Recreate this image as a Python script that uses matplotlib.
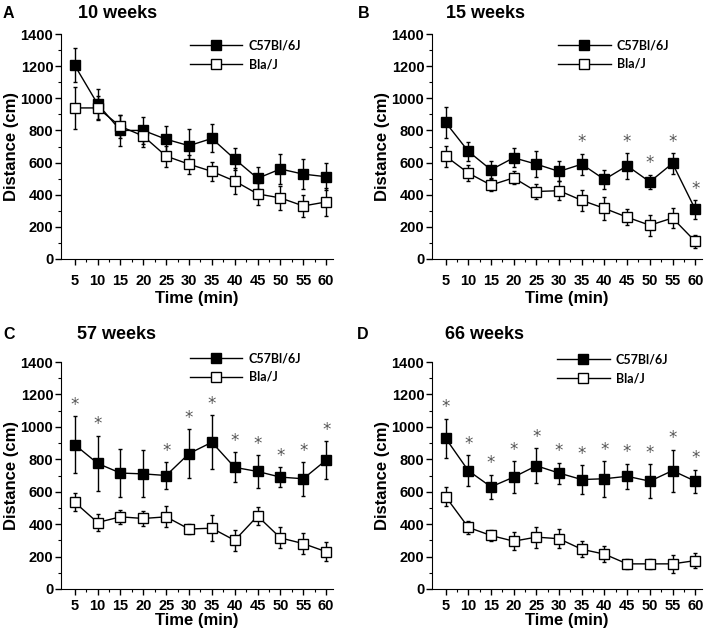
"""
Open field distance over time - 4 age groups (C57Bl/6J vs Bla/J)
"""

import matplotlib
matplotlib.use('Agg')
import matplotlib.pyplot as plt
from matplotlib.lines import Line2D
import numpy as np

plt.rcParams['font.family'] = ['Liberation Sans', 'DejaVu Sans']

time_min = [5, 10, 15, 20, 25, 30, 35, 40, 45, 50, 55, 60]

# 10 weeks
a_c57 = [1205, 965, 800, 800, 745, 705, 750, 622, 502, 560, 528, 512]
a_c57_err = [105, 95, 95, 83, 85, 107, 87, 67, 68, 92, 95, 83]
a_bla = [940, 940, 825, 765, 640, 590, 545, 485, 405, 380, 330, 355]
a_bla_err = [130, 75, 70, 65, 65, 60, 60, 80, 70, 75, 70, 87]
a_sig = []

# 15 weeks
b_c57 = [850, 670, 555, 630, 590, 545, 590, 495, 580, 480, 595, 310]
b_c57_err = [95, 60, 52, 60, 80, 62, 65, 60, 80, 45, 64, 58]
b_bla = [640, 535, 460, 505, 420, 425, 365, 315, 260, 210, 255, 110]
b_bla_err = [65, 52, 38, 40, 48, 60, 65, 70, 50, 65, 62, 40]
b_sig = [35, 45, 50, 55, 60]

# 57 weeks
c_c57 = [890, 775, 715, 710, 700, 835, 905, 750, 725, 690, 680, 795]
c_c57_err = [175, 170, 148, 145, 83, 152, 167, 92, 102, 62, 104, 118]
c_bla = [535, 410, 445, 435, 445, 370, 375, 300, 450, 315, 280, 230]
c_bla_err = [55, 50, 45, 45, 65, 28, 80, 65, 57, 65, 63, 58]
c_sig = [5, 10, 25, 30, 35, 40, 45, 50, 55, 60]

# 66 weeks
d_c57 = [930, 730, 630, 690, 760, 715, 675, 680, 695, 665, 730, 665]
d_c57_err = [120, 95, 75, 100, 108, 65, 90, 110, 77, 103, 130, 70]
d_bla = [570, 380, 330, 295, 320, 310, 245, 215, 155, 155, 155, 175]
d_bla_err = [58, 40, 36, 55, 65, 58, 50, 50, 33, 33, 55, 45]
d_sig = [5, 10, 15, 20, 25, 30, 35, 40, 45, 50, 55, 60]

W, H = 709, 634


def px_rect(x0, y0, x1, y1):
    return [x0 / W, 1 - y1 / H, (x1 - x0) / W, (y1 - y0) / H]


def draw_panel(ax, c57, c57_err, bla, bla_err, sig, leg_xy, xpad, xlabpad):
    ax.errorbar(time_min, c57, yerr=c57_err, color='black', lw=1, marker='s',
                ms=7.5, mfc='black', mec='black', mew=1, elinewidth=1,
                capsize=1.5, capthick=1, zorder=3)
    ax.errorbar(time_min, bla, yerr=bla_err, color='black', lw=1, marker='s',
                ms=7.5, mfc='white', mec='black', mew=1, elinewidth=1,
                capsize=1.5, capthick=1, zorder=4)

    # significance stars above C57 error bars
    for t in sig:
        i = time_min.index(t)
        ax.text(t, c57[i] + c57_err[i] + 70, '*', ha='center', va='center',
                fontsize=12, color='#555555', family='DejaVu Sans')

    ax.set_xlim(2, 61.5)
    ax.set_ylim(0, 1400)
    ax.set_xticks(time_min)
    ax.set_xticks([t + 2.5 for t in time_min[:-1]], minor=True)
    ax.set_yticks(np.arange(0, 1401, 200))
    ax.set_yticks(np.arange(100, 1400, 200), minor=True)
    ax.tick_params(which='major', direction='out', length=4, width=1,
                   labelsize=10.5)
    ax.tick_params(axis='x', which='major', pad=xpad)
    ax.tick_params(axis='y', which='major', pad=1.5)
    ax.tick_params(which='minor', direction='out', length=2, width=0.8)
    for lab in ax.get_xticklabels() + ax.get_yticklabels():
        lab.set_fontweight('bold')
    ax.spines['top'].set_visible(False)
    ax.spines['right'].set_visible(False)
    ax.set_xlabel('Time (min)', fontsize=12, fontweight='bold',
                  labelpad=xlabpad)
    ax.set_ylabel('Distance (cm)', fontsize=12, fontweight='bold', labelpad=1)

    handles = [
        Line2D([], [], color='black', lw=1, marker='s', ms=7.5, mfc='black',
               mec='black', label='C57Bl/6J'),
        Line2D([], [], color='black', lw=1, marker='s', ms=7.5, mfc='white',
               mec='black', label='Bla/J'),
    ]
    ax.legend(handles=handles, loc='center left', bbox_to_anchor=leg_xy,
              frameon=False, handlelength=4.2, handletextpad=0.5,
              labelspacing=0.55, borderpad=0, borderaxespad=0,
              prop={'family': 'Lato', 'weight': 'bold', 'size': 9})


fig = plt.figure(figsize=(W / 100, H / 100), dpi=100)

ax_a = fig.add_axes(px_rect(61, 34, 333, 259))
ax_b = fig.add_axes(px_rect(432, 34, 702, 259))
ax_c = fig.add_axes(px_rect(61, 362, 333, 589))
ax_d = fig.add_axes(px_rect(432, 362, 702, 589))

draw_panel(ax_a, a_c57, a_c57_err, a_bla, a_bla_err, a_sig,
           (0.474, 0.907), 7, 2)
draw_panel(ax_b, b_c57, b_c57_err, b_bla, b_bla_err, b_sig,
           (0.467, 0.909), 7, 2)
draw_panel(ax_c, c_c57, c_c57_err, c_bla, c_bla_err, c_sig,
           (0.474, 0.976), 3, 0)
draw_panel(ax_d, d_c57, d_c57_err, d_bla, d_bla_err, d_sig,
           (0.463, 0.971), 3, 0)

# panel letters and titles
panels = [('A', '10 weeks', 3, 78, 13), ('B', '15 weeks', 358, 446, 13),
          ('C', '57 weeks', 3, 77, 334), ('D', '66 weeks', 357, 445, 334)]
for letter, title, lx, tx, y in panels:
    fig.text(lx / W, 1 - y / H, letter, fontsize=11.5, fontweight='bold',
             va='center', ha='left')
    fig.text(tx / W, 1 - y / H, title, fontsize=13, fontweight='bold',
             va='center', ha='left')

plt.savefig('out.png', dpi=100)
